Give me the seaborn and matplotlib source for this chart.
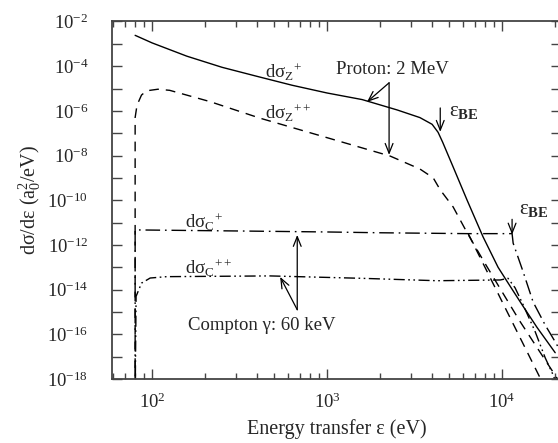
import pandas as pd
import matplotlib
matplotlib.use("Agg")
import matplotlib.pyplot as plt
from matplotlib.ticker import LogLocator, NullFormatter
import seaborn as sns

# energy transfer (eV) vs d(sigma)/d(eps) (a0^2/eV)
z1_energy = [80, 100, 158, 251, 398, 631, 1000, 1585, 2512, 3390, 3981, 4305, 4570,
             5248, 6310, 7780, 9480, 11220, 13000, 15850, 20100]
z1_sigma = [2.4e-3, 1.1e-3, 2.8e-4, 8.9e-5, 3.5e-5, 1.4e-5, 6.3e-6, 3.2e-6, 1.1e-6, 5.0e-7,
            2.5e-7, 1.1e-7, 4.0e-8, 3.1e-9, 1.0e-10, 2.3e-12, 1.0e-13, 1.26e-14, 2.1e-15,
            2.0e-16, 1.5e-17]

z2_energy = [80, 80, 82, 87, 93, 108, 126, 214, 414, 1000, 2290, 3390, 4040, 4430, 5250,
             6310, 7940, 10000, 12590, 15850, 19950, 22390]
z2_sigma = [1e-19, 5.0e-7, 1.8e-6, 5.1e-6, 7.9e-6, 9.3e-6, 8.3e-6, 2.6e-6, 4.7e-7, 6.3e-8,
            9.5e-9, 2.5e-9, 1.0e-9, 2.9e-10, 5.0e-11, 3.5e-12, 1.6e-13, 7.9e-15, 4.0e-16,
            2.5e-17, 1.6e-18, 4.0e-19]

# second steep dashed branch leaving the C+ level near 6.4 keV
zb_energy = [6400, 16600]
zb_sigma = [3.2e-12, 1.0e-18]

c1_energy = [80, 80, 316, 1000, 2010, 6310, 11400, 11560, 13180, 15030, 17620, 20100, 21000]
c1_sigma = [1e-19, 4.7e-12, 4.2e-12, 3.8e-12, 3.5e-12, 3.2e-12, 3.2e-12, 1.2e-12, 6.3e-14,
            2.8e-15, 2.6e-16, 4.6e-17, 2.5e-17]

c2_energy = [80, 81, 87, 97.5, 121, 472, 1585, 4240, 9750, 10810, 11860, 13180, 15450,
             17620, 19500, 20400]
c2_sigma = [1e-19, 5.0e-15, 1.95e-14, 3.3e-14, 3.8e-14, 4.1e-14, 3.2e-14, 2.5e-14, 2.7e-14,
            3.2e-14, 1.2e-14, 2.1e-15, 1.3e-16, 8.9e-18, 1.6e-18, 6.3e-19]

y_major = [1e-18, 1e-16, 1e-14, 1e-12, 1e-10, 1e-8, 1e-6, 1e-4, 1e-2]
y_minor = [1e-17, 1e-15, 1e-13, 1e-11, 1e-9, 1e-7, 1e-5, 1e-3]
x_major = [1e2, 1e3, 1e4]

curves = {
    "Z+": (z1_energy, z1_sigma),
    "Z++": (z2_energy, z2_sigma),
    "Zb": (zb_energy, zb_sigma),
    "C+": (c1_energy, c1_sigma),
    "C++": (c2_energy, c2_sigma),
}
df = pd.concat(
    [pd.DataFrame({"energy": e, "sigma": s, "curve": name}) for name, (e, s) in curves.items()],
    ignore_index=True,
)

dash_map = {
    "Z+": "",
    "Z++": (7, 5),
    "Zb": (7, 5),
    "C+": (10.5, 3.5, 1.2, 3.5),
    "C++": (8, 2.5, 1.2, 2.5, 1.2, 2.5),
}

sns.set_style("ticks")
plt.rcParams["font.family"] = ["Liberation Serif", "DejaVu Serif"]
plt.rcParams["mathtext.fontset"] = "custom"
plt.rcParams["mathtext.rm"] = "Liberation Serif"
plt.rcParams["mathtext.it"] = "Liberation Serif:italic"
plt.rcParams["mathtext.bf"] = "Liberation Serif:bold"
plt.rcParams["axes.unicode_minus"] = False

fig = plt.figure(figsize=(5.58, 4.43), dpi=100)
ax = fig.add_axes([0.2007, 0.1445, 0.8047, 0.807])

sns.lineplot(data=df, x="energy", y="sigma", style="curve", dashes=dash_map,
             color="black", linewidth=1.0, estimator=None, sort=False,
             legend=False, ax=ax)

ax.set_xscale("log")
ax.set_yscale("log")
ax.set_xlim(59, 21700)
ax.set_ylim(1e-18, 1e-2)

ax.set_yticks(y_major)
ax.set_yticks(y_minor, minor=True)
ax.yaxis.set_minor_formatter(NullFormatter())
ax.set_xticks(x_major)
ax.xaxis.set_minor_locator(LogLocator(base=10, subs=range(2, 10)))
ax.xaxis.set_minor_formatter(NullFormatter())

ax.tick_params(which="both", direction="in", top=True, right=True, color="#444444", width=1.0)
ax.tick_params(axis="x", which="major", length=7, pad=10, labelsize=13.5)
ax.tick_params(axis="x", which="minor", length=4)
ax.tick_params(axis="y", which="both", length=7.5)
ax.tick_params(axis="y", which="major", pad=17, labelsize=13.5)
for sp in ax.spines.values():
    sp.set_color("#444444")
    sp.set_linewidth(1.3)

ax.set_xlabel("Energy transfer ε (eV)", fontsize=14.5, labelpad=5)
ax.set_ylabel(r"dσ/dε (a$_0^2$/eV)", fontsize=14.5, labelpad=3)


def arrow(x0, y0, x1, y1):
    ax.annotate("", xy=(x1, y1), xytext=(x0, y0),
                arrowprops=dict(arrowstyle="->,head_length=0.5,head_width=0.2",
                                color="black", lw=0.9, shrinkA=0, shrinkB=0,
                                mutation_scale=14))


# labels of the curves
lab = 13.5
ax.text(440, 5.5e-5, r"dσ${}_\mathrm{Z}{}^{+}$", fontsize=lab, va="center")
ax.text(440, 8.1e-7, r"dσ${}_\mathrm{Z}{}^{++}$", fontsize=lab, va="center")
ax.text(155, 1.07e-11, r"dσ${}_\mathrm{C}{}^{+}$", fontsize=lab, va="center")
ax.text(155, 9.3e-14, r"dσ${}_\mathrm{C}{}^{++}$", fontsize=lab, va="center")

ax.text(2350, 7.4e-5, "Proton: 2 MeV", fontsize=lab, ha="center", va="center")
arrow(2260, 1.8e-5, 1690, 2.5e-6)
arrow(2260, 1.8e-5, 2260, 1.07e-8)

ax.text(425, 2.4e-16, "Compton γ: 60 keV", fontsize=lab, ha="center", va="center")
arrow(675, 1.26e-15, 675, 2.8e-12)
arrow(675, 1.26e-15, 539, 3.7e-14)

ax.text(4950, 8.9e-7, r"ε${}_\mathbf{BE}$", fontsize=15, va="center")
arrow(4430, 1.35e-6, 4430, 1.15e-7)
ax.text(12500, 3.7e-11, r"ε${}_\mathbf{BE}$", fontsize=15, va="center")
arrow(11400, 1.4e-11, 11400, 2.9e-12)

plt.savefig("out.png", dpi=100)
plt.close()
